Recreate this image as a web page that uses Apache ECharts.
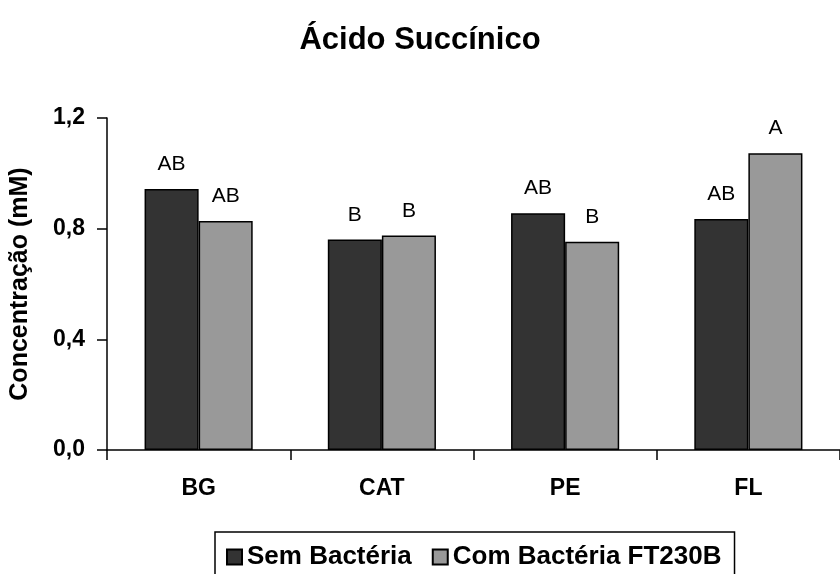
<!DOCTYPE html>
<html>
<head>
<meta charset="utf-8">
<script src="https://cdn.jsdelivr.net/npm/echarts@6/dist/echarts.min.js"></script>
<style>
html,body{margin:0;padding:0;background:#fff;}
#chart{width:840px;height:574px;}
</style>
</head>
<body>
<div id="chart"></div>
<script>
const titleText = 'Ácido Succínico';
const categories = ['BG', 'CAT', 'PE', 'FL'];
const seriesNames = ['Sem Bactéria', 'Com Bactéria FT230B'];
const semValues = [0.943, 0.761, 0.856, 0.835];
const comValues = [0.828, 0.775, 0.753, 1.073];
const semLetters = ['AB', 'B', 'AB', 'AB'];
const comLetters = ['AB', 'B', 'B', 'A'];
const yTicks = [0, 0.4, 0.8, 1.2];
const yName = 'Concentração (mM)';

const boldFont = 'Liberation Sans';
const chart = echarts.init(document.getElementById('chart'));

function makeSeries(name, values, letters, color) {
  return {
    name: name,
    type: 'bar',
    data: values,
    barGap: '0%',
    barCategoryGap: '41%',
    itemStyle: { color: color, borderColor: '#000', borderWidth: 1.5 },
    label: {
      show: true,
      position: 'top',
      distance: 14,
      formatter: p => letters[p.dataIndex],
      fontFamily: 'Liberation Sans',
      fontSize: 21,
      color: '#000'
    },
    emphasis: { disabled: true }
  };
}

chart.setOption({
  animation: false,
  backgroundColor: '#fff',
  title: {
    text: titleText,
    left: 'center',
    top: 20,
    textStyle: { fontFamily: boldFont, fontWeight: 'bold', fontSize: 31, color: '#000' }
  },
  legend: {
    data: seriesNames,
    left: 215,
    top: 532,
    orient: 'horizontal',
    padding: [12, 13, 40, 11],
    itemGap: 20,
    itemWidth: 15,
    itemHeight: 15,
    icon: 'rect',
    borderColor: '#000',
    borderWidth: 1.5,
    textStyle: { fontFamily: boldFont, fontWeight: 'bold', fontSize: 26, lineHeight: 26, color: '#000' }
  },
  grid: { left: 107, top: 118, width: 744, height: 332, containLabel: false },
  xAxis: {
    type: 'category',
    data: categories,
    boundaryGap: true,
    axisLine: { lineStyle: { color: '#000', width: 1.5 } },
    axisTick: { show: true, length: 10, lineStyle: { color: '#000', width: 1.5 } },
    axisLabel: { margin: 27, fontFamily: boldFont, fontWeight: 'bold', fontSize: 23, color: '#000' }
  },
  yAxis: {
    type: 'value',
    min: yTicks[0],
    max: yTicks[yTicks.length - 1],
    interval: yTicks[1] - yTicks[0],
    name: yName,
    nameLocation: 'middle',
    nameGap: 74,
    nameRotate: 90,
    nameTextStyle: { fontFamily: boldFont, fontWeight: 'bold', fontSize: 25, color: '#000' },
    axisLine: { show: true, lineStyle: { color: '#000', width: 1.5 } },
    axisTick: { show: true, length: 10, lineStyle: { color: '#000', width: 1.5 } },
    splitLine: { show: false },
    axisLabel: {
      margin: 22,
      fontFamily: boldFont, fontWeight: 'bold', fontSize: 23, color: '#000',
      formatter: v => v.toFixed(1).replace('.', ',')
    }
  },
  series: [
    makeSeries(seriesNames[0], semValues, semLetters, '#333333'),
    makeSeries(seriesNames[1], comValues, comLetters, '#999999')
  ]
});
</script>
</body>
</html>
